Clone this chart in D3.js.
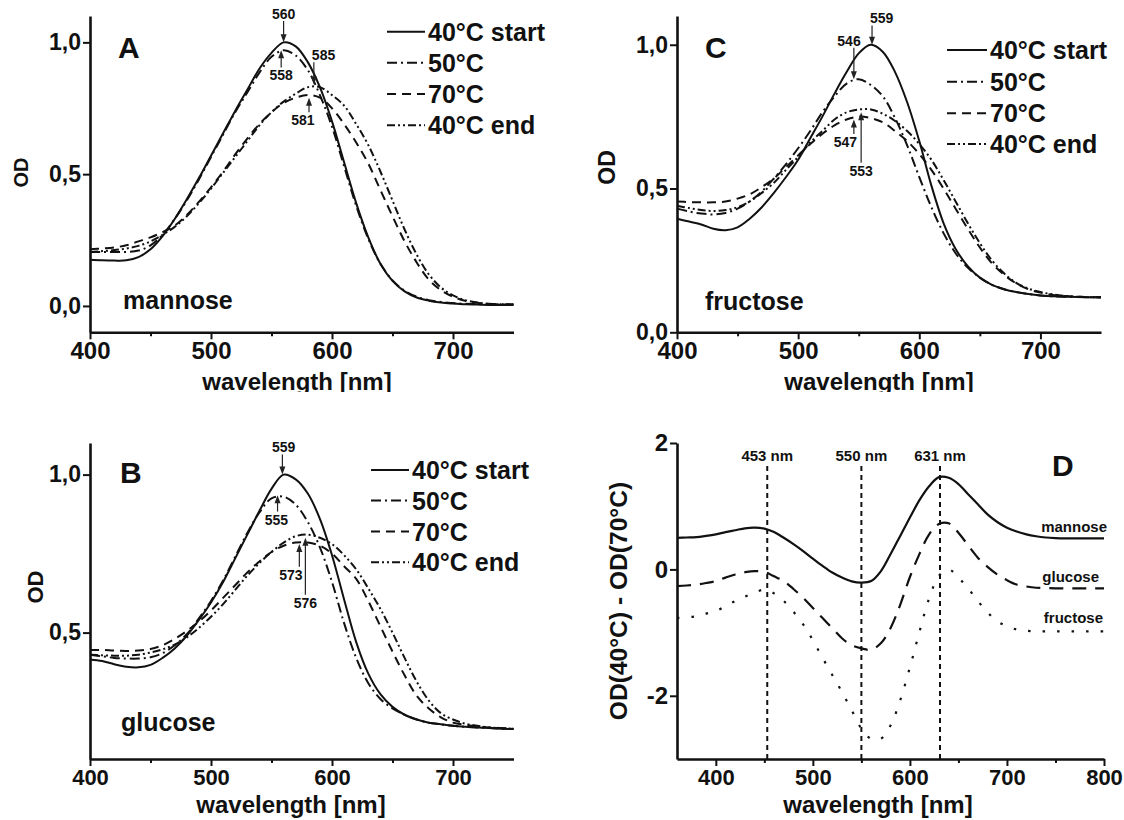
<!DOCTYPE html>
<html>
<head>
<meta charset="utf-8">
<script src="https://cdn.jsdelivr.net/npm/d3@7"></script>
<style>
  body { margin: 0; background: #fff; }
  svg { display: block; }
  text { font-family: "Liberation Sans", Arial, sans-serif; font-weight: bold; fill: #111; }
</style>
</head>
<body>
<svg id="fig" width="1124" height="820"></svg>
<script>
// wavelengths (nm) of the spectra in panels A-C
const wlABC = [400,410,420,430,440,450,460,470,480,490,500,510,520,530,540,550,560,570,
  580,590,600,610,620,630,640,650,660,670,680,690,700,710,720,730,740,750];
const legendLabels = ["40°C start", "50°C", "70°C", "40°C end"];

// A: mannose
const manStart = [.175,.173,.172,.173,.185,.215,.265,.33,.405,.485,.57,.655,.74,.82,.9,.96,1.0,.985,
  .925,.83,.70,.545,.39,.26,.16,.095,.055,.032,.02,.013,.009,.006,.005,.004,.004,.004];
const man50 = [.205,.205,.205,.205,.21,.23,.27,.33,.40,.48,.565,.65,.735,.81,.885,.945,.97,.95,
  .895,.80,.68,.53,.38,.255,.16,.097,.058,.035,.022,.015,.011,.008,.007,.006,.006,.006];
const man70 = [.215,.218,.222,.23,.245,.26,.28,.305,.345,.395,.45,.51,.575,.635,.69,.735,.77,.79,
  .80,.79,.75,.69,.62,.54,.44,.34,.245,.165,.10,.06,.035,.02,.012,.008,.006,.005];
const manEnd = [.205,.208,.212,.218,.228,.245,.27,.30,.34,.39,.445,.505,.565,.625,.685,.735,.775,.805,
  .83,.83,.80,.76,.69,.61,.51,.40,.29,.195,.12,.07,.04,.022,.013,.008,.006,.005];

// B: glucose
const gluStart = [.415,.41,.40,.392,.39,.398,.42,.45,.49,.54,.595,.66,.735,.81,.885,.955,1.0,.985,
  .94,.86,.745,.605,.47,.37,.305,.265,.24,.225,.215,.21,.205,.202,.2,.198,.196,.195];
const glu50 = [.43,.425,.42,.418,.418,.422,.435,.46,.495,.545,.60,.665,.74,.815,.88,.925,.93,.905,
  .85,.77,.66,.53,.42,.34,.29,.26,.24,.225,.215,.21,.205,.202,.2,.198,.196,.195];
const glu70 = [.445,.445,.443,.442,.443,.448,.46,.48,.505,.535,.57,.61,.65,.69,.725,.755,.775,.785,
  .785,.775,.75,.71,.67,.60,.52,.44,.365,.30,.26,.232,.215,.208,.203,.2,.198,.196];
const gluEnd = [.43,.428,.427,.427,.43,.437,.447,.462,.485,.515,.55,.59,.635,.68,.72,.755,.785,.805,
  .81,.80,.78,.745,.70,.64,.575,.50,.42,.345,.285,.245,.225,.212,.205,.2,.197,.195];

// C: fructose
const fruStart = [.395,.385,.375,.36,.355,.365,.395,.435,.485,.54,.60,.675,.75,.83,.905,.97,1.0,.975,
  .905,.80,.665,.51,.38,.29,.23,.19,.165,.15,.14,.133,.128,.125,.124,.123,.122,.122];
const fru50 = [.43,.42,.413,.41,.415,.43,.455,.49,.535,.585,.64,.70,.765,.82,.865,.88,.86,.82,
  .745,.65,.54,.435,.345,.275,.225,.19,.165,.15,.14,.133,.128,.125,.124,.123,.122,.122];
const fru70 = [.455,.453,.452,.452,.455,.465,.48,.505,.535,.575,.615,.655,.69,.72,.74,.75,.745,.73,
  .70,.665,.62,.565,.50,.43,.36,.295,.24,.20,.17,.15,.138,.13,.126,.124,.122,.122];
const fruEnd = [.44,.432,.425,.422,.425,.435,.455,.485,.52,.565,.61,.66,.70,.74,.765,.775,.775,.76,
  .735,.70,.655,.60,.53,.455,.38,.31,.25,.205,.172,.152,.14,.132,.127,.124,.122,.122];

// D: OD(40°C) - OD(70°C)
const wlD = [360,370,380,390,400,410,420,430,440,450,460,470,480,490,500,510,520,530,540,550,
  560,570,580,590,600,610,620,630,640,650,660,670,680,690,700,710,720,730,740,750,760,770,780,790,800];
const diffMannose = [.50,.505,.51,.53,.555,.59,.62,.65,.66,.645,.59,.50,.40,.29,.17,.055,-.05,-.13,-.19,-.21,
  -.185,-.03,.24,.53,.82,1.1,1.32,1.46,1.45,1.35,1.19,1.03,.87,.75,.66,.60,.555,.525,.505,.495,.49,.49,.49,.49,.49];
const diffGlucose = [-.265,-.255,-.24,-.215,-.185,-.13,-.08,-.045,-.026,-.04,-.11,-.185,-.31,-.45,-.61,-.77,-.93,-1.09,-1.2,-1.25,
  -1.27,-1.17,-.93,-.56,-.12,.25,.56,.72,.73,.58,.38,.185,.04,-.08,-.17,-.24,-.27,-.29,-.295,-.30,-.30,-.30,-.30,-.30,-.30];
const diffFructose = [-.77,-.76,-.74,-.70,-.66,-.58,-.50,-.43,-.37,-.32,-.38,-.50,-.67,-.87,-1.12,-1.4,-1.67,-1.94,-2.23,-2.52,
  -2.68,-2.68,-2.47,-2.07,-1.55,-.98,-.45,-.10,0,-.13,-.30,-.50,-.68,-.82,-.90,-.95,-.97,-.98,-.98,-.98,-.98,-.98,-.98,-.98,-.98];
const diffNames = ["mannose", "glucose", "fructose"];
const markerWl = [453, 550, 631];

// peak arrows: [label, wavelength, tip OD, tail OD, label wavelength, label side]
const peaksA = [["560",560,1.0,1.081,560,"up"],["558",558,.97,.905,558,"down"],
  ["585",585,.84,.925,593,"up"],["581",581,.79,.735,576,"down"]];
const peaksB = [["559",559,1.0,1.064,560,"up"],["555",555,.935,.883,554,"down"],
  ["573",573,.78,.708,566,"down"],["576",578,.80,.62,578,"down"]];
const peaksC = [["559",561,1.0,1.067,569,"up"],["546",546,.88,.99,542,"up"],
  ["547",546,.74,.69,539,"down"],["553",552,.765,.59,552,"down"]];

const lineStyles = [null, "10,4,2,4", "9,6", "8,3,2,3,2,3"];
const fmtComma = d => d3.format(".1f")(d).replace(".", ",");

const svg = d3.select("#fig");

svg.append("defs").append("clipPath").attr("id", "topClip")
  .append("rect").attr("x", 0).attr("y", 0).attr("width", 1124).attr("height", 392);

function drawAxes(g, x, y, xMajor, xMinor, yTicks, yFmt, bottom, left, xFont) {
  g.append("g").attr("class", "xax").attr("transform", `translate(0,${bottom})`)
    .call(d3.axisBottom(x).tickValues(xMajor).tickSize(7).tickSizeOuter(0).tickPadding(3).tickFormat(d3.format("d")));
  g.append("g").attr("transform", `translate(0,${bottom})`)
    .call(d3.axisBottom(x).tickValues(xMinor).tickSize(4).tickSizeOuter(0).tickFormat(""))
    .call(s => s.select(".domain").remove());
  g.append("g").attr("transform", `translate(${left},0)`)
    .call(d3.axisLeft(y).tickValues(yTicks).tickSize(7).tickSizeOuter(0).tickPadding(2).tickFormat(yFmt));
  g.selectAll(".domain").attr("stroke", "#111").attr("stroke-width", 2.6);
  g.selectAll(".tick line").attr("stroke", "#111").attr("stroke-width", 2);
  g.selectAll(".tick text").attr("font-size", 23).attr("font-family", null).attr("fill", "#111");
  g.selectAll(".xax .tick text").attr("font-size", xFont);
}

function arrow(g, xp, yTail, yTip) {
  const dir = yTip > yTail ? 1 : -1;
  g.append("line").attr("x1", xp).attr("x2", xp).attr("y1", yTail).attr("y2", yTip - dir * 6)
    .attr("stroke", "#222").attr("stroke-width", 1.2);
  g.append("path")
    .attr("d", `M${xp},${yTip} L${xp - 3},${yTip - dir * 8} L${xp + 3},${yTip - dir * 8} Z`)
    .attr("fill", "#222");
}

const specPanels = [
  { key: "A", sugar: "mannose", series: [manStart, man50, man70, manEnd], peaks: peaksA,
    xr: [90, 513.5], yr: [332.3, 16], yDom: [-0.1, 1.1], yTicks: [0, 0.5, 1.0], top: true,
    letter: [118, 58], sugarPos: [123, 309], titleX: 297, titleY: 390, odPos: [21, 172.5], odSize: 20,
    leg: { x1: 387, x2: 425, tx: 428, rows: [31.7, 62.7, 94, 125.3] } },
  { key: "B", sugar: "glucose", series: [gluStart, glu50, glu70, gluEnd], peaks: peaksB,
    xr: [90, 513.5], yr: [759, 443], yDom: [0.1, 1.1], yTicks: [0.5, 1.0], top: false,
    letter: [120, 483], sugarPos: [121, 731], titleX: 291, titleY: 813, odPos: [35, 587], odSize: 22,
    leg: { x1: 371, x2: 409, tx: 412, rows: [470, 500.5, 531.5, 562.3] } },
  { key: "C", sugar: "fructose", series: [fruStart, fru50, fru70, fruEnd], peaks: peaksC,
    xr: [677, 1101], yr: [332.3, 16], yDom: [0, 1.1], yTicks: [0, 0.5, 1.0], top: true,
    letter: [705, 58], sugarPos: [705, 310], titleX: 879, titleY: 390, odPos: [607, 167.5], odSize: 23,
    leg: { x1: 947, x2: 987, tx: 990, rows: [50, 81.7, 113.3, 144] } }
];

specPanels.forEach(p => {
  const g = svg.append("g");
  if (p.top) g.attr("clip-path", "url(#topClip)");
  const x = d3.scaleLinear().domain([400, 750]).range(p.xr);
  const y = d3.scaleLinear().domain(p.yDom).range(p.yr);

  drawAxes(g, x, y, [400, 500, 600, 700], [450, 550, 650], p.yTicks, fmtComma, p.yr[0], p.xr[0],
    p.top ? 24 : 22);

  const line = d3.line().x((d, i) => x(wlABC[i])).y(d => y(d)).curve(d3.curveCatmullRom);
  p.series.forEach((s, i) => {
    g.append("path").datum(s).attr("d", line)
      .attr("fill", "none").attr("stroke", "#111").attr("stroke-width", 2)
      .attr("stroke-dasharray", lineStyles[i]);
  });

  // peak arrows
  p.peaks.forEach(([lab, wl, tip, tail, lwl, side]) => {
    arrow(g, x(wl), y(tail), y(tip));
    g.append("text").attr("x", x(lwl))
      .attr("y", side === "up" ? y(tail) - 2 : y(tail) + 13)
      .attr("text-anchor", "middle").attr("font-size", 14).attr("font-weight", "normal")
      .attr("fill", "#222").text(lab);
  });

  // legend
  p.leg.rows.forEach((ry, i) => {
    g.append("line").attr("x1", p.leg.x1).attr("x2", p.leg.x2).attr("y1", ry).attr("y2", ry)
      .attr("stroke", "#111").attr("stroke-width", 2).attr("stroke-dasharray", lineStyles[i]);
    g.append("text").attr("x", p.leg.tx).attr("y", ry).attr("dy", "0.36em")
      .attr("font-size", 25).text(legendLabels[i]);
  });

  g.append("text").attr("x", p.letter[0]).attr("y", p.letter[1]).attr("font-size", 30).text(p.key);
  g.append("text").attr("x", p.sugarPos[0]).attr("y", p.sugarPos[1]).attr("font-size", 25).text(p.sugar);
  g.append("text").attr("x", p.titleX).attr("y", p.titleY).attr("text-anchor", "middle")
    .attr("font-size", 24).text("wavelength [nm]");
  g.append("text").attr("transform", `translate(${p.odPos[0]},${p.odPos[1]}) rotate(-90)`)
    .attr("text-anchor", "middle").attr("dy", "0.36em").attr("font-size", p.odSize).text("OD");
});

// panel D
{
  const g = svg.append("g");
  const x = d3.scaleLinear().domain([360, 800]).range([677, 1104]);
  const y = d3.scaleLinear().domain([-3, 2]).range([759, 443]);
  drawAxes(g, x, y, [400, 500, 600, 700, 800], [450, 550, 650, 750], [-2, 0, 2], d => String(d), 759, 677, 22);
  g.selectAll("g:not(.xax) > .tick text").attr("font-size", 24);

  markerWl.forEach(w => {
    g.append("line").attr("x1", x(w)).attr("x2", x(w)).attr("y1", 466).attr("y2", 759)
      .attr("stroke", "#111").attr("stroke-width", 2).attr("stroke-dasharray", "5,4");
    g.append("text").attr("x", x(w)).attr("y", 461).attr("text-anchor", "middle")
      .attr("font-size", 15).text(`${w} nm`);
  });

  const line = d3.line().x((d, i) => x(wlD[i])).y(d => y(d)).curve(d3.curveCatmullRom);
  const dStyles = [null, "14,9", "2.5,12"];
  [diffMannose, diffGlucose, diffFructose].forEach((s, i) => {
    g.append("path").datum(s).attr("d", line)
      .attr("fill", "none").attr("stroke", "#111").attr("stroke-width", 2.2)
      .attr("stroke-dasharray", dStyles[i]);
  });

  const labPos = [[1107, 531.7], [1099, 581.7], [1103, 622.7]];
  diffNames.forEach((n, i) => {
    g.append("text").attr("x", labPos[i][0]).attr("y", labPos[i][1]).attr("text-anchor", "end")
      .attr("font-size", 15).text(n);
  });

  g.append("text").attr("x", 1052).attr("y", 476).attr("font-size", 30).text("D");
  g.append("text").attr("x", 878).attr("y", 813).attr("text-anchor", "middle")
    .attr("font-size", 24).text("wavelength [nm]");
  g.append("text").attr("transform", "translate(618,601) rotate(-90)")
    .attr("text-anchor", "middle").attr("dy", "0.36em").attr("font-size", 24.6).text("OD(40°C) - OD(70°C)");
}
</script>
</body>
</html>
